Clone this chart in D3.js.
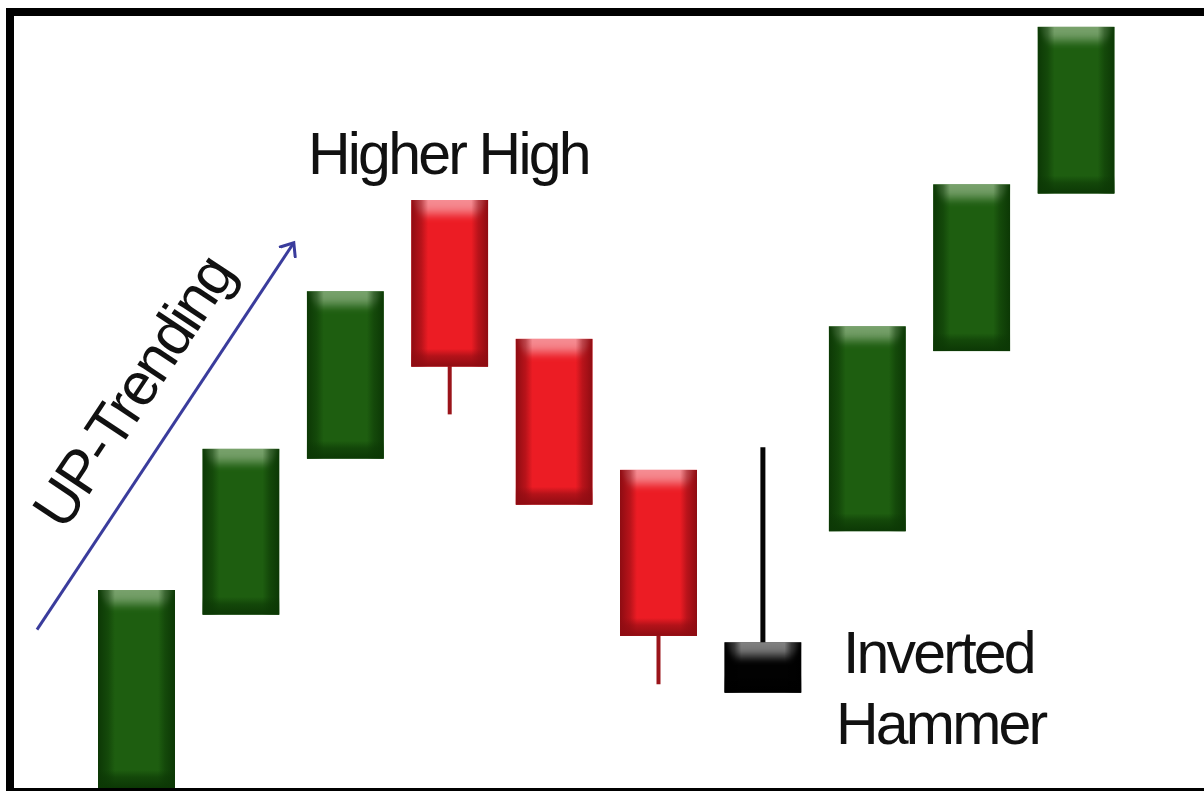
<!DOCTYPE html>
<html>
<head>
<meta charset="utf-8">
<script src="https://cdn.jsdelivr.net/npm/d3@7"></script>
<style>
html,body{margin:0;padding:0;background:#fff;}
svg{display:block;}
</style>
</head>
<body>
<svg id="chart" width="1204" height="791"></svg>
<script>
// ---- data ----
const candles = ["c1","c2","c3","c4","c5","c6","c7","c8","c9","c10"];
const opens  = [0.0, 22.2, 42.2, 75.4, 57.6, 40.8, 12.2, 32.9, 56.0, 76.2];
const closes = [25.4, 43.5, 63.7, 54.0, 36.3, 19.5, 18.7, 59.2, 77.4, 97.6];
const highs  = [25.4, 43.5, 63.7, 75.4, 57.6, 40.8, 43.7, 59.2, 77.4, 97.6];
const lows   = [0.0, 22.2, 42.2, 47.9, 36.3, 13.3, 12.2, 32.9, 56.0, 76.2];
const kinds  = ["up","up","up","down","down","down","hammer","up","up","up"];
const labels = ["Higher High", "Inverted", "Hammer", "UP-Trending"];

const palette = {
  up:     {base:"#1e5e10", edge:"#0c3805", light:"#7ea672", wick:"#0c3805"},
  down:   {base:"#ec1c24", edge:"#8e0c12", light:"#f6949a", wick:"#9a141a"},
  hammer: {base:"#020202", edge:"#000000", light:"#8a8a8a", wick:"#050505"}
};

const svg = d3.select("#chart");
const defs = svg.append("defs");

const x = d3.scaleBand().domain(candles).range([98, 1114.6]).paddingInner(0.262).paddingOuter(0);
const y = d3.scaleLinear().domain([0, 100]).range([788, 8]);

defs.append("filter").attr("id","blur").attr("x","-20%").attr("y","-50%").attr("width","140%").attr("height","200%")
  .append("feGaussianBlur").attr("stdDeviation", 2.5);

Object.entries(palette).forEach(([k, p]) => {
  const h = defs.append("linearGradient").attr("id","h-"+k).attr("x1",0).attr("x2",1).attr("y1",0).attr("y2",0);
  [[0,1],[0.13,0.55],[0.22,0],[0.78,0],[0.87,0.55],[1,1]].forEach(([o,a]) =>
    h.append("stop").attr("offset",o).attr("stop-color",p.edge).attr("stop-opacity",a));
  const v = defs.append("linearGradient").attr("id","v-"+k).attr("x1",0).attr("x2",0).attr("y1",0).attr("y2",1);
  [[0,0],[0.4,0.6],[1,1]].forEach(([o,a]) =>
    v.append("stop").attr("offset",o).attr("stop-color",p.edge).attr("stop-opacity",a));
  const t = defs.append("linearGradient").attr("id","t-"+k).attr("x1",0).attr("x2",0).attr("y1",0).attr("y2",1);
  [[0,p.light,1],[0.55,p.light,0.85],[1,p.light,0]].forEach(([o,c,a]) =>
    t.append("stop").attr("offset",o).attr("stop-color",c).attr("stop-opacity",a));
});

const data = candles.map((c,i) => ({c, o:opens[i], cl:closes[i], h:highs[i], l:lows[i], k:kinds[i], i}));

const g = svg.append("g");
data.forEach(d => {
  const p = palette[d.k];
  const x0 = x(d.c), w = x.bandwidth(), cx = x0 + w/2;
  const top = y(Math.max(d.o, d.cl)), bot = y(Math.min(d.o, d.cl));
  const hgt = bot - top;
  // wicks
  if (d.h > Math.max(d.o,d.cl)) {
    g.append("line").attr("x1",cx).attr("x2",cx).attr("y1",y(d.h)).attr("y2",top+2)
      .attr("stroke",p.wick).attr("stroke-width",5);
  }
  if (d.l < Math.min(d.o,d.cl)) {
    g.append("line").attr("x1",cx).attr("x2",cx).attr("y1",bot-2).attr("y2",y(d.l))
      .attr("stroke",p.wick).attr("stroke-width",4);
  }
  const clipId = "clip"+d.i;
  defs.append("clipPath").attr("id",clipId).append("rect")
    .attr("x",x0).attr("y",top).attr("width",w).attr("height",hgt);
  const cg = g.append("g").attr("clip-path",`url(#${clipId})`);
  cg.append("rect").attr("x",x0).attr("y",top).attr("width",w).attr("height",hgt).attr("fill",p.base);
  const th = 20;
  cg.append("path")
    .attr("d",`M${x0-4},${top-6}L${x0+w+4},${top-6}L${x0+w-10},${top+th}L${x0+10},${top+th}Z`)
    .attr("fill",`url(#t-${d.k})`).attr("filter","url(#blur)");
  cg.append("rect").attr("x",x0).attr("y",top).attr("width",w).attr("height",hgt).attr("fill",`url(#h-${d.k})`);
  const bh = Math.min(18, hgt*0.35);
  cg.append("rect").attr("x",x0).attr("y",bot-bh).attr("width",w).attr("height",bh).attr("fill",`url(#v-${d.k})`);
});

// trend arrow
defs.append("marker").attr("id","arrow").attr("viewBox","-12 -12 24 24")
  .attr("markerWidth",24).attr("markerHeight",24).attr("refX",0).attr("refY",0)
  .attr("orient","auto").attr("markerUnits","userSpaceOnUse")
  .append("path").attr("d","M-11,-9L0,0L-11,9").attr("fill","none")
  .attr("stroke","#3a3c9c").attr("stroke-width",3).attr("stroke-linecap","round");

const a0 = [x(candles[0]) - 61, y(20.3)], a1 = [x(candles[2]) - 13, y(69.9)];
svg.append("line").attr("x1",a0[0]).attr("y1",a0[1]).attr("x2",a1[0]).attr("y2",a1[1])
  .attr("stroke","#3a3c9c").attr("stroke-width",3).attr("marker-end","url(#arrow)");

const ang = Math.atan2(a1[1]-a0[1], a1[0]-a0[0]) * 180 / Math.PI;

const font = "'Liberation Sans', Arial, Helvetica, sans-serif";
svg.append("text").attr("transform",`translate(150,403) rotate(${ang})`)
  .attr("text-anchor","middle").attr("font-family",font).attr("font-size",60)
  .attr("letter-spacing","-2.5px").attr("fill","#111").text(labels[3]);

svg.append("text").attr("x",308).attr("y",174).attr("font-family",font).attr("font-size",59)
  .attr("letter-spacing","-2.8px").attr("fill","#111").text(labels[0]);
svg.append("text").attr("x",843).attr("y",673).attr("font-family",font).attr("font-size",59)
  .attr("letter-spacing","-2.8px").attr("fill","#111").text(labels[1]);
svg.append("text").attr("x",836).attr("y",744).attr("font-family",font).attr("font-size",59)
  .attr("letter-spacing","-2.8px").attr("fill","#111").text(labels[2]);

// frame
svg.append("rect").attr("x",10).attr("y",12).attr("width",1220).attr("height",780)
  .attr("fill","none").attr("stroke","#000").attr("stroke-width",8);
</script>
</body>
</html>
